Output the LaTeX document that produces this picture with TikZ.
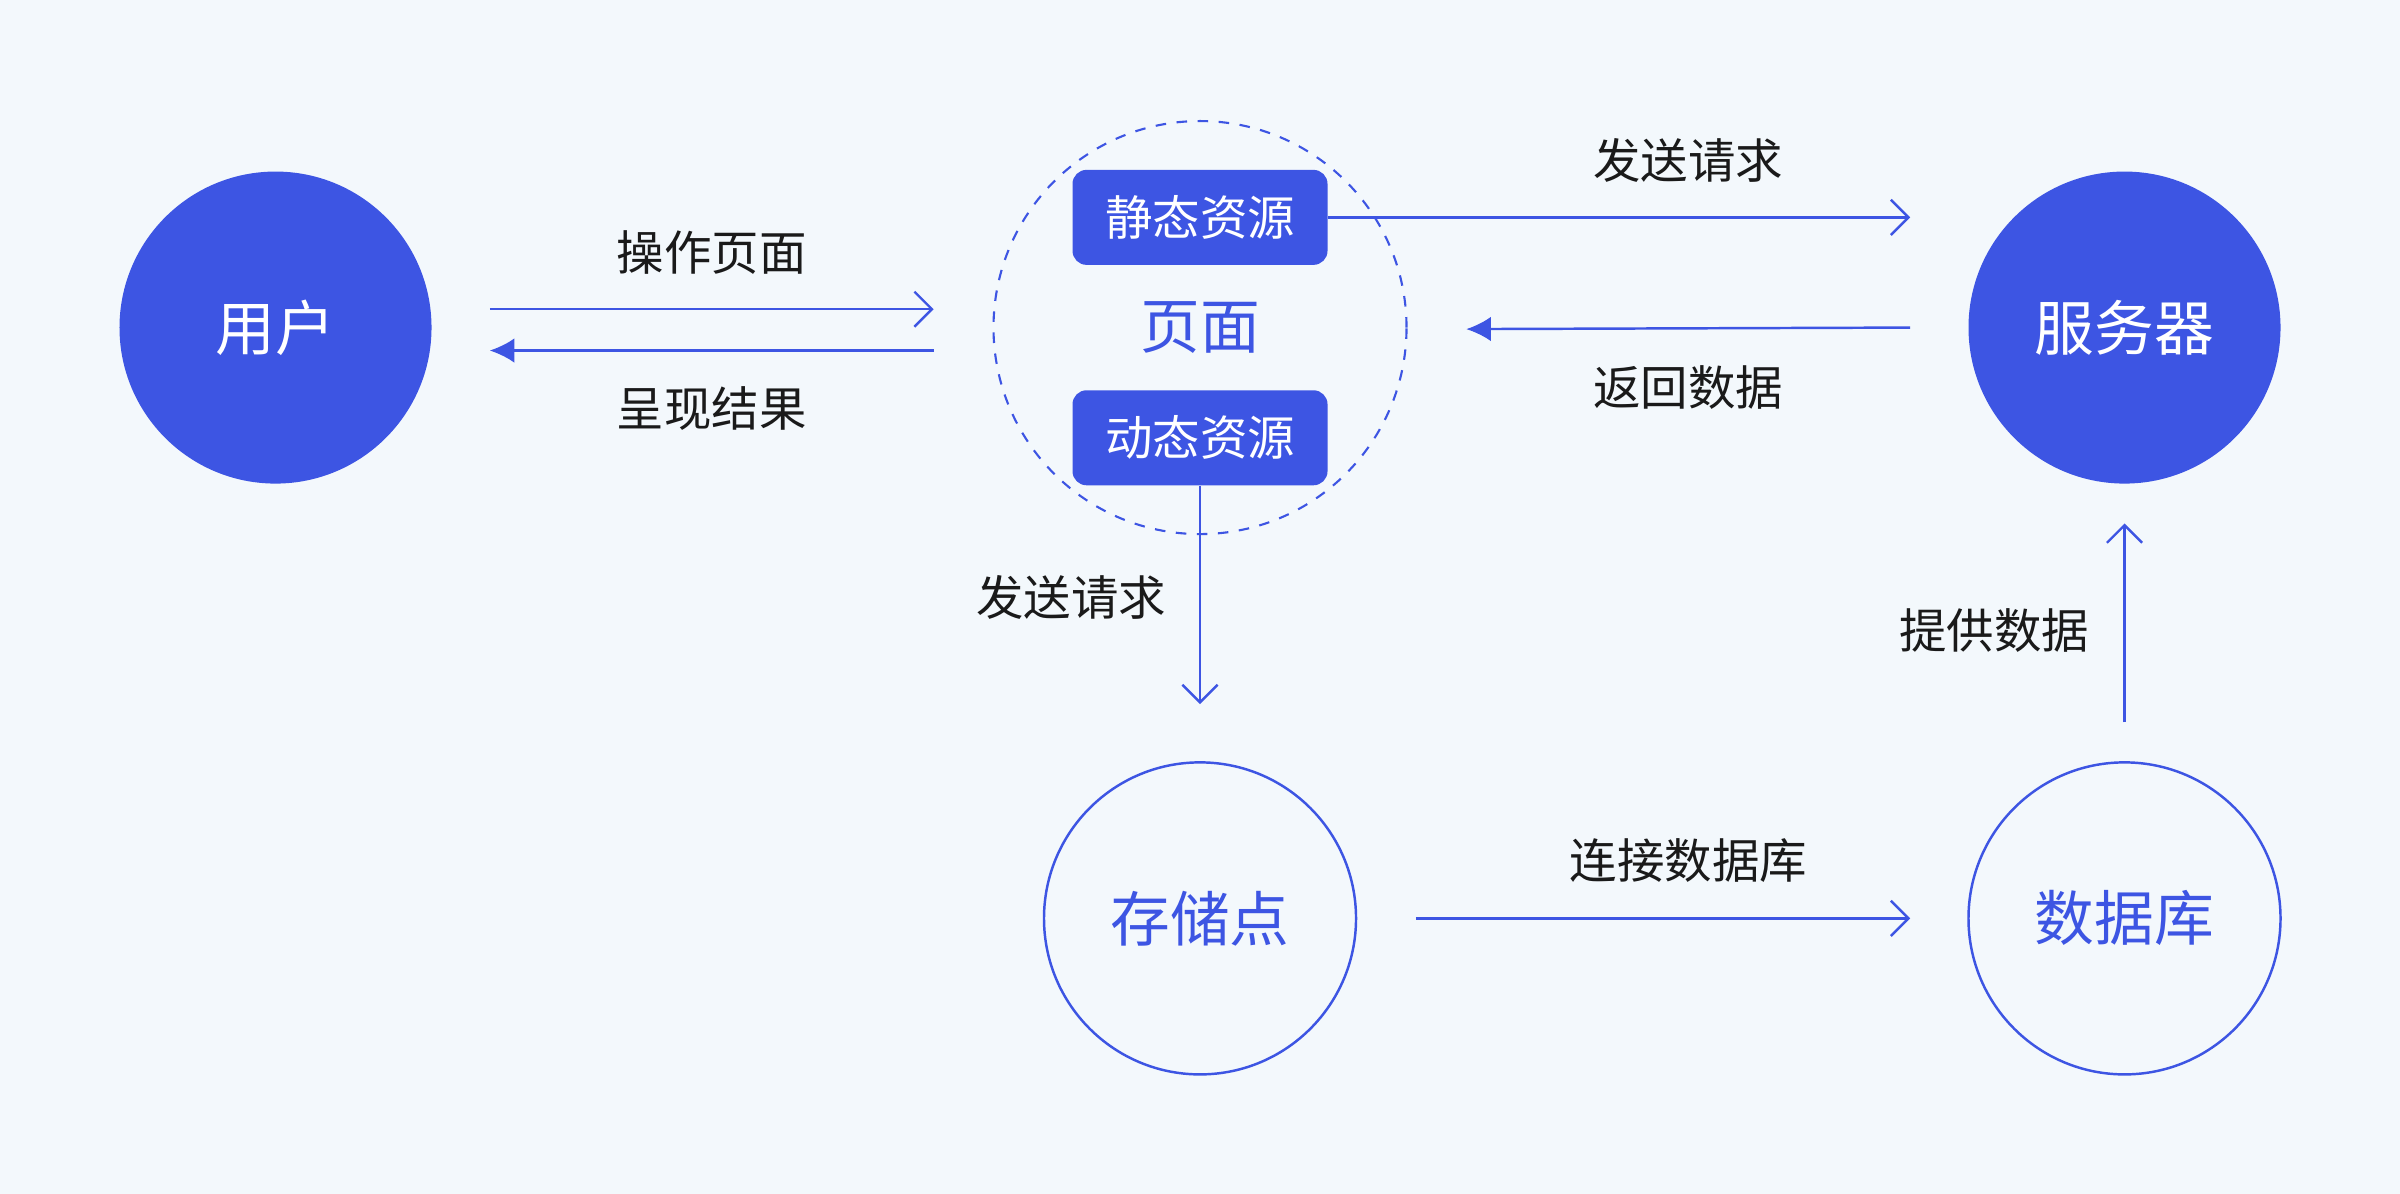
\documentclass[tikz,border=0pt]{standalone}
\usepackage{fontspec}
\setmainfont{Noto Sans CJK SC}
\usetikzlibrary{arrows.meta}
\definecolor{mainblue}{HTML}{3D55E3}
\definecolor{bgcol}{HTML}{F3F8FC}
\definecolor{txt}{HTML}{1A1A1A}

\begin{document}
\begin{tikzpicture}[x=0.015306cm,y=-0.015306cm,
  solid node/.style={circle,fill=mainblue,minimum size=3.12cm,text=white,font=\fontsize{17}{20}\selectfont},
  open node/.style={circle,draw=mainblue,line width=0.7pt,minimum size=3.12cm,text=mainblue,font=\fontsize{17}{20}\selectfont},
  res box/.style={rectangle,rounded corners=4pt,fill=mainblue,text=white,minimum width=2.55cm,minimum height=0.95cm,font=\fontsize{13.5}{16}\selectfont},
  lab/.style={text=txt,font=\fontsize{13.5}{16}\selectfont},
  link/.style={mainblue,line width=0.7pt,-{Straight Barb[length=5pt,width=10pt]}},
  back/.style={mainblue,line width=0.7pt,-{Latex[length=7pt,width=7pt]}}]

\fill[bgcol] (0,0) rectangle (1568,780);
\useasboundingbox (0,0) rectangle (1568,780);

% nodes
\node[solid node] (user) at (180,214) {用户};
\node[solid node] (server) at (1388,214) {服务器};
\node[open node] (store) at (784,600) {存储点};
\node[open node] (db) at (1388,600) {数据库};
\node[circle,draw=mainblue,dashed,line width=0.6pt,minimum size=4.13cm,text=mainblue,
  font=\fontsize{17}{20}\selectfont] (page) at (784,214) {页面};
\node[res box] (static) at (784,142) {静态资源};
\node[res box] (dynamic) at (784,286) {动态资源};

% end points
\coordinate (a1) at (320,202);  \coordinate (a2) at (610,202);
\coordinate (b1) at (610,229);  \coordinate (b2) at (320,229);
\coordinate (c2) at (1248,142);
\coordinate (d1) at (1248,214); \coordinate (d2) at (958,215);
\coordinate (e2) at (784,460);
\coordinate (f1) at (925,600);  \coordinate (f2) at (1248,600);
\coordinate (g1) at (1388,472); \coordinate (g2) at (1388,342);

% connectors
\draw[link] (a1) -- (a2);
\draw[back] (b1) -- (b2);
\draw[link] (static.east) -- (c2);
\draw[back] (d1) -- (d2);
\draw[link] (dynamic.south) -- (e2);
\draw[link] (f1) -- (f2);
\draw[link] (g1) -- (g2);

% labels
\node[lab] (l1) at (465,165) {操作页面};
\node[lab] (l2) at (465,267) {呈现结果};
\node[lab] (l3) at (1103,105) {发送请求};
\node[lab] (l4) at (1103,253) {返回数据};
\node[lab] (l5) at (700,390) {发送请求};
\node[lab] (l6) at (1103,562) {连接数据库};
\node[lab] (l7) at (1303,412) {提供数据};

\end{tikzpicture}
\end{document}
